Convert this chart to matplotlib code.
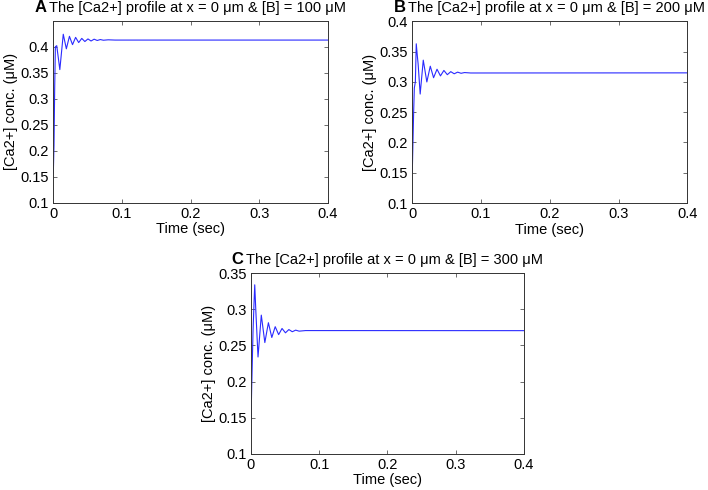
import matplotlib
matplotlib.use("Agg")
import matplotlib.pyplot as plt

plt.rcParams['font.family'] = ['Liberation Sans', 'DejaVu Sans']

# ---- data ----
time_a = [0, 0.001, 0.002, 0.003, 0.005, 0.0095, 0.0145, 0.019, 0.0235, 0.028, 0.0325,
          0.037, 0.0415, 0.046, 0.0505, 0.055, 0.0595, 0.064, 0.0685, 0.073, 0.08, 0.09, 0.4]
conc_a = [0.157, 0.21, 0.32, 0.400, 0.402, 0.356, 0.424, 0.396, 0.420, 0.404, 0.418,
          0.408, 0.416, 0.410, 0.415, 0.411, 0.4145, 0.412, 0.4138, 0.4125, 0.4133, 0.4128, 0.4128]

time_b = [0, 0.001, 0.002, 0.003, 0.0045, 0.0058, 0.0072, 0.0085, 0.0115, 0.016, 0.0212,
          0.0262, 0.031, 0.036, 0.041, 0.046, 0.051, 0.056, 0.061, 0.066, 0.071, 0.076, 0.085, 0.4]
conc_b = [0.15, 0.20, 0.25, 0.29, 0.30, 0.363, 0.345, 0.33, 0.280, 0.336, 0.300,
          0.326, 0.307, 0.321, 0.310, 0.319, 0.312, 0.317, 0.3135, 0.3162, 0.3143, 0.3155, 0.3148, 0.315]

time_c = [0, 0.001, 0.002, 0.003, 0.0045, 0.0055, 0.007, 0.0103, 0.0151, 0.0203, 0.0255,
          0.0305, 0.0355, 0.0405, 0.0455, 0.0505, 0.0555, 0.0605, 0.0655, 0.0705, 0.08, 0.4]
conc_c = [0.144, 0.19, 0.23, 0.27, 0.31, 0.334, 0.30, 0.234, 0.292, 0.254, 0.2815,
          0.261, 0.276, 0.265, 0.2735, 0.2675, 0.272, 0.269, 0.2712, 0.2698, 0.2706, 0.2705]

letters = ["A", "B", "C"]
buffers = [100, 200, 300]
ylims = [(0.1, 0.45), (0.1, 0.4), (0.1, 0.35)]
yticks = [[0.1, 0.15, 0.2, 0.25, 0.3, 0.35, 0.4],
          [0.1, 0.15, 0.2, 0.25, 0.3, 0.35, 0.4],
          [0.1, 0.15, 0.2, 0.25, 0.3, 0.35]]
xticks = [0, 0.1, 0.2, 0.3, 0.4]

fig = plt.figure(figsize=(7.08, 4.90), dpi=100)
positions = [[0.0753, 0.5863, 0.3876, 0.3714],
             [0.5823, 0.5857, 0.3884, 0.3706],
             [0.3545, 0.0741, 0.3856, 0.3682]]
series = [(time_a, conc_a), (time_b, conc_b), (time_c, conc_c)]

axes, titles = [], []
for i in range(3):
    ax = fig.add_axes(positions[i])
    t, c = series[i]
    ax.plot(t, c, color='#2a2aff', lw=0.8)
    ax.set_xlim(0, 0.4)
    ax.set_ylim(*ylims[i])
    ax.set_xticks(xticks)
    ax.set_xticklabels([f"{v:g}" for v in xticks])
    ax.set_yticks(yticks[i])
    ax.set_yticklabels([f"{v:g}" for v in yticks[i]])
    ax.tick_params(direction='in', top=True, right=True, labelsize=10.5,
                   length=3, width=0.6, color='#555555', pad=3)
    for s in ax.spines.values():
        s.set_linewidth(0.7)
        s.set_color('#333333')
    ax.set_xlabel("Time (sec)", fontsize=10.5, labelpad=1)
    ax.set_ylabel("[Ca2+] conc. (μM)", fontsize=10.5, labelpad=2)
    txt = ax.text(0.525, 1.05, f"The [Ca2+] profile at x = 0 μm & [B] = {buffers[i]} μM",
                  transform=ax.transAxes, ha='center', va='baseline', fontsize=10.5)
    axes.append(ax)
    titles.append(txt)

fig.canvas.draw()
renderer = fig.canvas.get_renderer()
for i, ax in enumerate(axes):
    bb = titles[i].get_window_extent(renderer)
    abb = ax.get_window_extent(renderer)
    xl = (bb.x0 - abb.x0) / abb.width
    ax.text(xl - 0.008, 1.05, letters[i], transform=ax.transAxes, ha='right',
            va='baseline', fontsize=12, fontweight='bold')

fig.savefig("out.png", dpi=100)
